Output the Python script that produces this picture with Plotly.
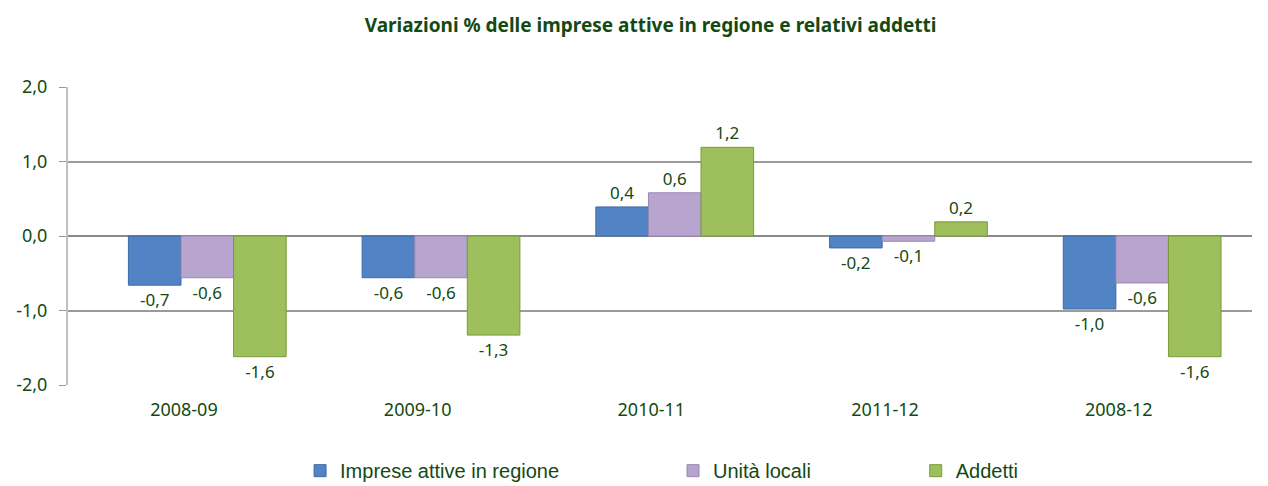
import plotly.graph_objects as go

categories = ["2008-09", "2009-10", "2010-11", "2011-12", "2008-12"]
imprese = [-0.66, -0.56, 0.39, -0.16, -0.98]
unita = [-0.56, -0.56, 0.58, -0.07, -0.63]
addetti = [-1.62, -1.33, 1.19, 0.19, -1.62]
series_names = ["Imprese attive in regione", "Unità locali", "Addetti"]
y_ticks = [-2.0, -1.0, 0.0, 1.0, 2.0]
y_tick_labels = ["-2,0", "-1,0", "0,0", "1,0", "2,0"]

TXT = "#134a13"
colors = ["#5283c4", "#b7a5cf", "#9dbf5c"]
lines = ["#3d6aa5", "#9886b3", "#7a9a3c"]
FONT = "Noto Sans"
LEG_FONT = dict(family="Liberation Sans Narrow, Liberation Sans", size=20, color=TXT)
legend_ids = ["legend", "legend2", "legend3"]
legend_x = [0.196, 0.511, 0.716]

def fmt(v):
    s = f"{abs(v):.1f}".replace(".", ",")
    return ("-" if round(v, 1) < 0 else "") + s

fig = go.Figure()
width = 0.225
start = 0.1 - 1.5 * width
for k, (name, vals) in enumerate(zip(series_names, [imprese, unita, addetti])):
    fig.add_trace(go.Bar(
        x=categories, y=vals, name=name,
        offset=start + k * width, width=width,
        marker=dict(color=colors[k], line=dict(color=lines[k], width=1)),
        text=[fmt(v) for v in vals], textposition="outside",
        textfont=dict(family=FONT, size=17, color=TXT),
        cliponaxis=False, legend=legend_ids[k],
    ))

legends = {}
for k, lid in enumerate(legend_ids):
    legends[lid] = dict(orientation="h", x=legend_x[k], xanchor="left",
                        y=-0.222, yanchor="top", font=LEG_FONT,
                        bgcolor="rgba(0,0,0,0)", itemclick=False)

fig.update_layout(
    width=1260, height=478,
    margin=dict(l=60, r=16, t=79, b=101, autoexpand=False),
    paper_bgcolor="white", plot_bgcolor="white",
    showlegend=True,
    title=dict(text="<b>Variazioni % delle imprese attive in regione e relativi addetti</b>",
               x=0.51, xanchor="center", y=0.964, yanchor="middle",
               font=dict(family=FONT, size=19, color=TXT)),
    font=dict(family=FONT, color=TXT),
    **legends,
)
fig.update_xaxes(
    type="category", range=[-0.496, 4.57],
    showgrid=False, showline=False, zeroline=False,
    ticks="", tickfont=dict(family=FONT, size=18, color=TXT),
    ticklabelstandoff=12,
)
fig.update_yaxes(
    range=[-2, 2], tickvals=y_ticks, ticktext=y_tick_labels,
    showgrid=True, gridcolor="#9a9a9a", gridwidth=2,
    zeroline=True, zerolinecolor="#8a8a8a", zerolinewidth=2,
    showline=True, linecolor="#c0c0c0", linewidth=2,
    ticks="outside", ticklen=7, tickcolor="#9a9a9a",
    tickfont=dict(family=FONT, size=18, color=TXT),
    ticklabelstandoff=8,
)
fig.write_html("out.html")
